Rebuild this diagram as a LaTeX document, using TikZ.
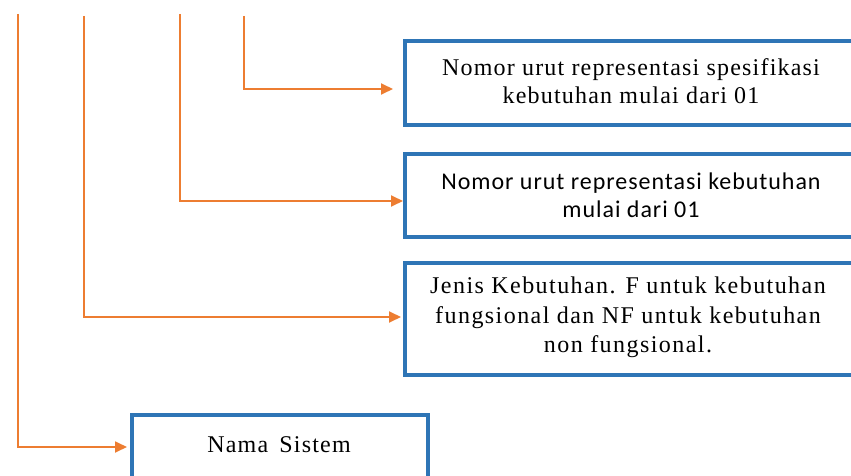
\documentclass[tikz,border=0pt]{standalone}
\usepackage{fontspec}
\setmainfont{Liberation Serif}[LetterSpace=5]
\newfontfamily\calibrilike{Carlito}[LetterSpace=4]
\usetikzlibrary{arrows.meta}
\definecolor{boxblue}{HTML}{2E75B6}
\definecolor{linkorange}{HTML}{ED7D31}
\tikzset{
  infobox/.style={draw=boxblue, line width=4pt, rectangle, inner sep=0pt},
  infotext/.style={align=center, inner sep=0pt, font=\fontsize{24}{28}\selectfont},
  link/.style={draw=linkorange, line width=1.8pt,
    -{Triangle[length=12pt,width=11pt]}}
}
\begin{document}
\begin{tikzpicture}[x=1pt,y=-1pt]
\useasboundingbox (0,0) rectangle (851,476);
\clip (0,0) rectangle (851,476);

% boxes
\node[infobox, minimum width=448pt, minimum height=84pt] (b1) at (629,83) {};
\node[infobox, minimum width=448pt, minimum height=83pt] (b2) at (629,195.5) {};
\node[infobox, minimum width=448pt, minimum height=112pt] (b3) at (629,319) {};
\node[infobox, minimum width=296pt, minimum height=80pt] (b4) at (280,455) {};

% box texts
\node[infotext] (t1) at (631,81.3) {Nomor urut representasi spesifikasi\\kebutuhan mulai dari 01};
\node[infotext, font=\calibrilike\fontsize{24}{28}\selectfont] (t2) at (631,195) {Nomor urut representasi kebutuhan\\mulai dari 01};
\node[infotext, font=\addfontfeature{LetterSpace=6}\fontsize{24}{29.5}\selectfont] (t3) at (628,317.5) {Jenis Kebutuhan. F untuk kebutuhan\\fungsional dan NF untuk kebutuhan\\non fungsional.};
\node[infotext] (t4) at (279,445) {Nama\hspace{4pt} Sistem};

% upper ends of the leader lines
\coordinate (s1) at (244,16);
\coordinate (s2) at (180,14);
\coordinate (s3) at (84,16);
\coordinate (s4) at (18,14);

% leader lines with arrows into the boxes
\draw[link, shorten >=10pt] (s1) |- (b1.west |- 0,89);
\draw[link] (s2) |- (b2.west |- 0,201);
\draw[link, shorten >=2pt] (s3) |- (b3.west |- 0,317);
\draw[link, shorten >=3pt] (s4) |- (b4.west |- 0,447);
\end{tikzpicture}
\end{document}
